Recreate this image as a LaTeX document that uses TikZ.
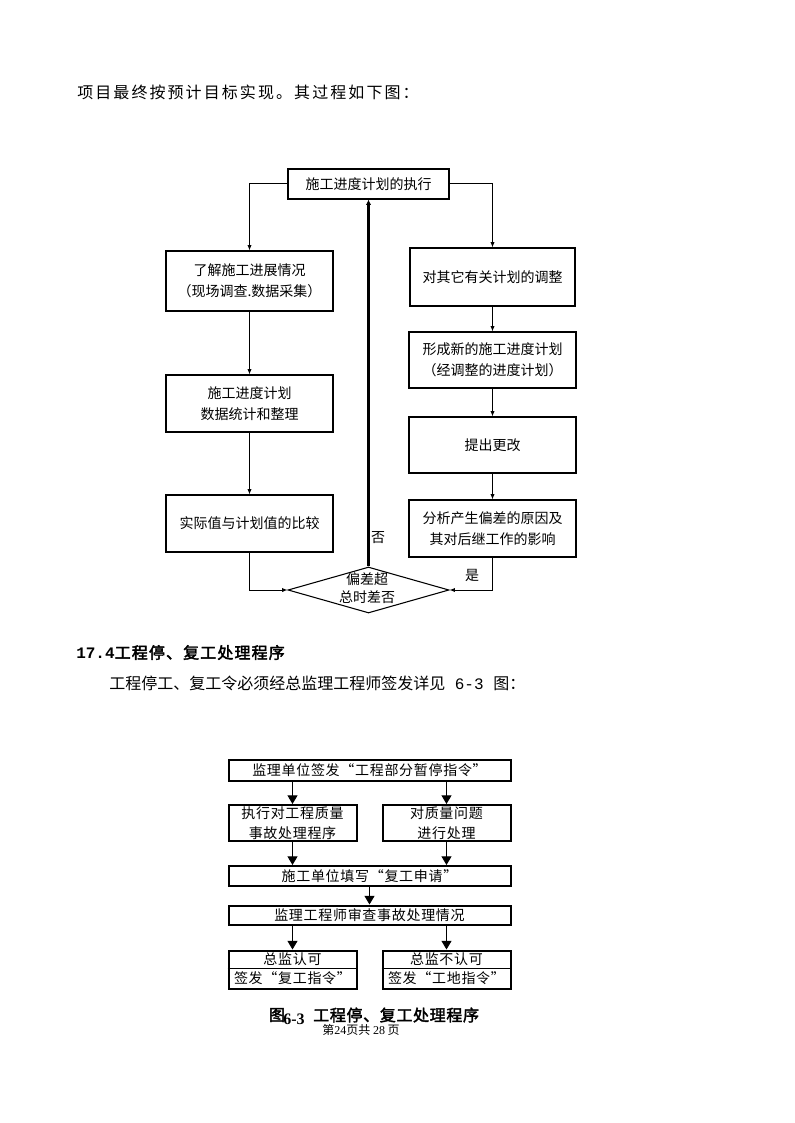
\documentclass[tikz,border=0pt]{standalone}
\usepackage{fontspec}
\setmainfont{Noto Sans CJK SC}
\newfontfamily\cjkb{Noto Sans CJK SC}[FakeBold=2.5]
\newfontfamily\tnr{Liberation Serif}
\newfontfamily\mono{Liberation Mono}
\usetikzlibrary{arrows.meta,shapes.geometric}
\tikzset{
  boxa/.style={draw, line width=0.8pt, inner sep=0pt, align=center,
    font=\fontsize{10.5}{15.5}\selectfont},
  boxb/.style={draw, line width=1.5pt, inner sep=0pt, align=center,
    font=\fontsize{10.5}{15}\selectfont\addfontfeatures{LetterSpace=5}},
  lbl/.style={inner sep=0pt, font=\fontsize{10.5}{13.5}\selectfont},
  lblb/.style={inner sep=0pt, font=\fontsize{10.5}{13}\selectfont\addfontfeatures{LetterSpace=5}},
  arra/.style={-{Latex[length=4pt,width=3.2pt]}, line width=0.75pt},
  arrthick/.style={-{Latex[length=4pt,width=4pt]}, line width=2pt},
  arrb/.style={-{Triangle[length=6.5pt,width=7.5pt]}, line width=0.75pt},
}
\begin{document}
\begin{tikzpicture}[x=0.75pt,y=-0.75pt]
\useasboundingbox (0,0) rectangle (794,1123);
\fill[white] (0,0) rectangle (794,1123);

% intro text
\node[anchor=west, inner sep=0pt, font=\fontsize{12}{14}\selectfont\addfontfeatures{LetterSpace=13}] (intro) at (77,92) {项目最终按预计目标实现。其过程如下图：};

% ---------- flowchart 1 ----------
\node[boxa, minimum width=120.75pt, minimum height=22.5pt] (top) at (368.5,184) {施工进度计划的执行};
\node[boxa, minimum width=125.25pt, minimum height=45pt] (L1) at (249.5,281) {了解施工进展情况\\（现场调查.数据采集）};
\node[boxa, minimum width=125.25pt, minimum height=42.75pt] (L2) at (249.5,403.5) {施工进度计划\\数据统计和整理};
\node[boxa, minimum width=125.25pt, minimum height=42.75pt] (L3) at (249.5,523.5) {实际值与计划值的比较};
\node[boxa, minimum width=123.75pt, minimum height=43.5pt] (R1) at (492.5,277) {对其它有关计划的调整};
\node[boxa, minimum width=125.25pt, minimum height=42pt] (R2) at (492.5,360) {形成新的施工进度计划\\（经调整的进度计划）};
\node[boxa, minimum width=125.25pt, minimum height=42pt] (R3) at (492.5,445) {提出更改};
\node[boxa, minimum width=125.25pt, minimum height=42.75pt] (R4) at (492.5,528.5) {分析产生偏差的原因及\\其对后继工作的影响};
\node[draw, diamond, line width=0.8pt, inner sep=0pt, minimum width=120.75pt, minimum height=34.5pt] (D) at (368.5,590) {};
\node[lbl, align=center] (Dt) at (367,588) {偏差超\\总时差否};
\node[lbl] (no) at (378,538) {否};
\node[lbl] (yes) at (472,575) {是};

\draw[arra] (top.west) -| (L1.north);
\draw[arra] (top.east) -| (R1.north);
\draw[arra] (L1.south) -- (L2.north);
\draw[arra] (L2.south) -- (L3.north);
\draw[arra] (L3.south) |- (D.west);
\draw[arra] (R1.south) -- (R2.north);
\draw[arra] (R2.south) -- (R3.north);
\draw[arra] (R3.south) -- (R4.north);
\draw[arra] (R4.south) |- (D.east);
\draw[arrthick] (D.north) -- (top.south);

% ---------- section heading ----------
\node[anchor=west, inner sep=0pt, font=\fontsize{12}{14}\selectfont] (head) at (76,652.5) {{\mono\bfseries 17.4}{\cjkb\addfontfeatures{LetterSpace=7}工程停、复工处理程序}};
\node[anchor=west, inner sep=0pt, font=\fontsize{12}{14}\selectfont] (para) at (109,683) {工程停工、复工令必须经总监理工程师签发详见{\mono\ 6-3\ }图：};

% ---------- flowchart 2 ----------
\node[boxb, minimum width=211.5pt, minimum height=15.4pt] (A) at (369.5,770.25) {监理单位签发“工程部分暂停指令”};
\node[boxb, minimum width=96pt, minimum height=27pt] (B1) at (292.5,823) {执行对工程质量\\事故处理程序};
\node[boxb, minimum width=96pt, minimum height=27pt] (B2) at (446.5,823) {对质量问题\\进行处理};
\node[boxb, minimum width=211.5pt, minimum height=15pt] (C) at (369.5,876) {施工单位填写“复工申请”};
\node[boxb, minimum width=211.5pt, minimum height=14.25pt] (Dd) at (369.5,915) {监理工程师审查事故处理情况};
\node[boxb, minimum width=96pt, minimum height=28.5pt] (E1) at (292.5,969.5) {};
\node[boxb, minimum width=96pt, minimum height=28.5pt] (E2) at (446.5,969.5) {};
\coordinate (E1d) at (292.5,968.5);
\coordinate (E2d) at (446.5,968.5);
\draw[line width=0.8pt] (E1.west |- E1d) -- (E1.east |- E1d);
\draw[line width=0.8pt] (E2.west |- E2d) -- (E2.east |- E2d);
\node[lblb] (E1t) at (292.5,959.5) {总监认可};
\node[lblb] (E1b) at (292.5,978.5) {签发“复工指令”};
\node[lblb] (E2t) at (446.5,959.5) {总监不认可};
\node[lblb] (E2b) at (446.5,978.5) {签发“工地指令”};

\draw[arrb] (A.south -| B1.north) -- (B1.north);
\draw[arrb] (A.south -| B2.north) -- (B2.north);
\draw[arrb] (B1.south) -- (B1.south |- C.north);
\draw[arrb] (B2.south) -- (B2.south |- C.north);
\draw[arrb] (C.south) -- (Dd.north);
\draw[arrb] (Dd.south -| E1.north) -- (E1.north);
\draw[arrb] (Dd.south -| E2.north) -- (E2.north);

% ---------- caption & footer ----------
\node[lbl, font=\fontsize{12}{14}\selectfont\cjkb] (cap1) at (277,1015) {图};
\node[lbl, font=\fontsize{12}{14}\selectfont\tnr\bfseries] (cap2) at (294,1019) {6-3};
\node[lbl, anchor=west, font=\fontsize{12}{14}\selectfont\cjkb\addfontfeatures{LetterSpace=4}] (cap3) at (313,1015) {工程停、复工处理程序};
\node[lbl, font=\fontsize{9}{10}\selectfont] (foot) at (361,1030) {第{\tnr 24}页共 {\tnr 28} 页};
\end{tikzpicture}
\end{document}
